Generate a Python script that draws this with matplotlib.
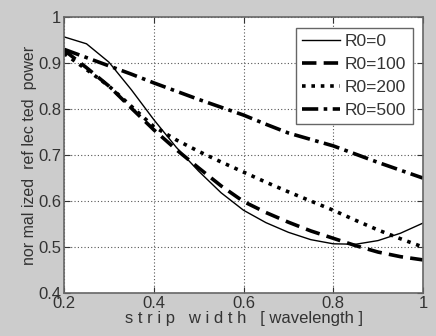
import matplotlib

matplotlib.use("Agg")
import matplotlib.pyplot as plt

plt.rcParams["font.family"] = ["Liberation Sans", "DejaVu Sans"]

# strip width [wavelength]
width = [0.2, 0.25, 0.3, 0.35, 0.4, 0.45, 0.5, 0.55, 0.6, 0.65, 0.7, 0.75, 0.8, 0.85, 0.9, 0.95, 1.0]

r0_0 = [0.957, 0.942, 0.902, 0.842, 0.777, 0.717, 0.665, 0.618, 0.580, 0.553, 0.532, 0.516, 0.507, 0.506, 0.514, 0.530, 0.552]
r0_100 = [0.928, 0.890, 0.850, 0.802, 0.755, 0.712, 0.672, 0.633, 0.599, 0.575, 0.554, 0.535, 0.519, 0.503, 0.489, 0.479, 0.472]
r0_200 = [0.921, 0.886, 0.850, 0.806, 0.762, 0.733, 0.708, 0.685, 0.663, 0.641, 0.620, 0.600, 0.580, 0.558, 0.537, 0.518, 0.500]
r0_500 = [0.930, 0.912, 0.894, 0.876, 0.857, 0.839, 0.821, 0.804, 0.787, 0.767, 0.748, 0.734, 0.720, 0.702, 0.684, 0.667, 0.650]

series = [
    ("R0=0", r0_0, "-", 1.0),
    ("R0=100", r0_100, (0, (4, 2)), 2.6),
    ("R0=200", r0_200, (0, (1, 1.6)), 2.6),
    ("R0=500", r0_500, (0, (4.5, 1.5, 1, 1.5)), 2.6),
]

fig = plt.figure(figsize=(4.36, 3.36), dpi=100, facecolor="#cccccc")
ax = fig.add_axes([0.147, 0.128, 0.823, 0.821])
ax.set_facecolor("white")

for label, vals, ls, lw in series:
    ax.plot(width, vals, color="black", linestyle=ls, linewidth=lw, label=label)

ax.set_xlim(0.2, 1.0)
ax.set_ylim(0.4, 1.0)
ax.set_xticks([0.2, 0.4, 0.6, 0.8, 1.0])
ax.set_xticklabels(["0.2", "0.4", "0.6", "0.8", "1"])
ax.set_yticks([0.4, 0.5, 0.6, 0.7, 0.8, 0.9, 1.0])
ax.set_yticklabels(["0.4", "0.5", "0.6", "0.7", "0.8", "0.9", "1"])
ax.grid(True, color="#555555", linestyle=(0, (1, 2)), linewidth=0.8)
ax.tick_params(direction="in", top=True, right=True, labelsize=12, colors="#333333", length=4, pad=2)
for s in ax.spines.values():
    s.set_color("#666666")
    s.set_linewidth(1.2)

ax.set_xlabel("s t r i p   w i d t h   [ wavelength ]", fontsize=12, color="#333333", labelpad=0)
ax.set_ylabel("nor mal ized  ref lec ted  power", fontsize=11.5, color="#333333", labelpad=1)

leg = ax.legend(loc="upper right", fontsize=12.5, fancybox=False, framealpha=1,
                edgecolor="#666666", handlelength=2.2, borderaxespad=0.6,
                labelspacing=0.45, handletextpad=0.3, borderpad=0.35)
leg.get_frame().set_linewidth(1.0)
for t in leg.get_texts():
    t.set_color("#333333")

fig.savefig("out.png", dpi=100, facecolor=fig.get_facecolor())
